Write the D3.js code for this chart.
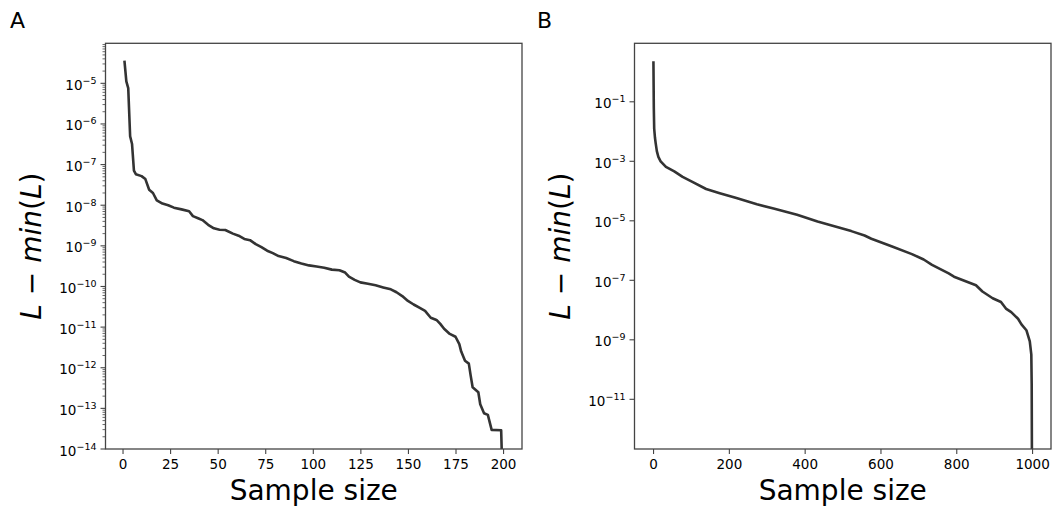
<!DOCTYPE html>
<html>
<head>
<meta charset="utf-8">
<script src="https://cdn.jsdelivr.net/npm/d3@7"></script>
<style>
	html, body { margin: 0; padding: 0; background: #fff; }
	svg { display: block; font-family: "DejaVu Sans", sans-serif; }
</style>
</head>
<body>
<div id="chart"></div>
<script>
'use strict';

// panel A : 200 samples
var sampleA = [1, 2, 3, 4, 5, 6, 7, 10, 12, 14, 16, 18, 21, 24, 27, 31, 35, 37, 40, 42,
	45, 48, 51, 54, 58, 61, 64, 67, 70, 73, 76, 79, 82, 86, 90, 94, 98, 102, 106, 110,
	114, 117, 119, 122, 125, 129, 133, 137, 141, 144, 147, 150, 153, 156, 159, 162, 165, 167, 169, 172,
	175, 177, 178, 180, 182, 183, 184, 187, 188, 190, 192, 194, 199, 200];
var lossA = [3.6e-5, 1.12e-5, 7.6e-6, 5.0e-7, 3.2e-7, 7.1e-8, 5.8e-8, 5.2e-8, 4.4e-8, 2.4e-8, 2.0e-8, 1.32e-8, 1.1e-8, 1.0e-8, 8.7e-9, 7.9e-9, 7.1e-9, 5.4e-9, 4.7e-9, 4.3e-9,
	3.3e-9, 2.7e-9, 2.5e-9, 2.45e-9, 2.0e-9, 1.78e-9, 1.48e-9, 1.38e-9, 1.1e-9, 9.3e-10, 7.6e-10, 6.6e-10, 5.6e-10, 5.0e-10, 4.2e-10, 3.7e-10, 3.3e-10, 3.1e-10, 2.9e-10, 2.6e-10,
	2.5e-10, 2.2e-10, 1.74e-10, 1.45e-10, 1.26e-10, 1.17e-10, 1.07e-10, 9.5e-11, 8.5e-11, 7.2e-11, 5.8e-11, 4.4e-11, 3.6e-11, 3.0e-11, 2.5e-11, 1.7e-11, 1.5e-11, 1.2e-11, 9.1e-12, 6.8e-12,
	5.8e-12, 3.8e-12, 2.5e-12, 1.48e-12, 1.26e-12, 6.3e-13, 3.3e-13, 2.5e-13, 1.26e-13, 7.6e-14, 6.9e-14, 2.95e-14, 2.9e-14, 0];

// panel B : 1000 samples
var sampleB = [1, 2, 3, 5, 7, 10, 14, 20, 34, 56, 78, 105, 140, 176, 220, 274, 318, 380, 434, 469,
	523, 558, 576, 629, 683, 714, 736, 780, 794, 852, 869, 896, 918, 931, 945, 963, 972, 985, 994, 998,
	999, 1000];
var lossB = [2.3, 6.3e-2, 1.26e-2, 6.3e-3, 4.0e-3, 2.2e-3, 1.4e-3, 1.0e-3, 6.5e-4, 4.6e-4, 3.0e-4, 2.0e-4, 1.17e-4, 8.5e-5, 5.8e-5, 3.6e-5, 2.6e-5, 1.6e-5, 9.5e-6, 7.1e-6,
	4.5e-6, 3.2e-6, 2.5e-6, 1.4e-6, 7.6e-7, 5.0e-7, 3.3e-7, 1.7e-7, 1.32e-7, 6.8e-8, 4.2e-8, 2.5e-8, 1.86e-8, 1.12e-8, 8.5e-9, 5.1e-9, 3.3e-9, 2.1e-9, 8.9e-10, 3.2e-10,
	3.2e-11, 0];

// tick labels
var xTicksA = [0, 25, 50, 75, 100, 125, 150, 175, 200];
var xTicksB = [0, 200, 400, 600, 800, 1000];
var yExpA = [-5, -6, -7, -8, -9, -10, -11, -12, -13, -14];
var yExpB = [-1, -3, -5, -7, -9, -11];

var W = 1056, H = 513;
var lineColor = '#333333', spineColor = '#444444';

var svg = d3.select('#chart').append('svg')
	.attr('width', W)
	.attr('height', H);

var panels = [
	{
		letter: 'A', letterX: 10,
		left: 105.5, right: 522, top: 43.3, bottom: 449,
		xDomain: [-8.95, 209.95], yDomain: [1e-14, Math.pow(10, -4.015)],
		xs: sampleA, ys: lossA, xTicks: xTicksA, yExp: yExpA, minor: true
	},
	{
		letter: 'B', letterX: 537,
		left: 634.5, right: 1051, top: 43.3, bottom: 449,
		xDomain: [-48.95, 1049.95], yDomain: [Math.pow(10, -12.67), Math.pow(10, 0.966)],
		xs: sampleB, ys: lossB, xTicks: xTicksB, yExp: yExpB, minor: false
	}
];

panels.forEach(function (p, i) {
	var x = d3.scaleLinear().domain(p.xDomain).range([p.left, p.right]),
		y = d3.scaleLog().domain(p.yDomain).range([p.bottom, p.top]),
		g = svg.append('g'),
		clipId = 'clip-' + i,
		pts;

	// panel letter
	svg.append('text')
		.attr('x', p.letterX)
		.attr('y', 28)
		.style('font-size', '22px')
		.text(p.letter);

	g.append('clipPath').attr('id', clipId)
		.append('rect')
		.attr('x', p.left).attr('y', p.top)
		.attr('width', p.right - p.left)
		.attr('height', p.bottom - p.top);

	// zero values are clipped far below the axis, as matplotlib does
	pts = p.xs.map(function (v, k) {
		return [v, p.ys[k] > 0 ? p.ys[k] : 1e-300];
	});

	g.append('path')
		.datum(pts)
		.attr('clip-path', 'url(#' + clipId + ')')
		.attr('fill', 'none')
		.attr('stroke', lineColor)
		.attr('stroke-width', 2.6)
		.attr('stroke-linejoin', 'round')
		.attr('d', d3.line()
			.x(function (d) { return x(d[0]); })
			.y(function (d) { return Math.min(y(d[1]), p.bottom + 50); }));

	// x axis
	var xAxis = g.append('g')
		.attr('transform', 'translate(0,' + p.bottom + ')')
		.call(d3.axisBottom(x).tickValues(p.xTicks).tickSize(5).tickPadding(5).tickFormat(d3.format('d')));
	xAxis.select('.domain').remove();
	xAxis.selectAll('line').attr('stroke', spineColor).attr('stroke-width', 1.1);
	xAxis.selectAll('text')
		.attr('fill', '#000')
		.style('font-size', '13.5px')
		.style('font-family', '"DejaVu Sans", sans-serif');

	// y axis, major ticks
	var yAxis = g.append('g')
		.attr('transform', 'translate(' + p.left + ',0)');
	var majors = p.yExp.map(function (e) { return Math.pow(10, e); });
	yAxis.selectAll('line.major')
		.data(majors)
		.enter().append('line')
		.attr('class', 'major')
		.attr('x1', -5).attr('x2', 0)
		.attr('y1', function (d) { return y(d); })
		.attr('y2', function (d) { return y(d); })
		.attr('stroke', spineColor).attr('stroke-width', 1.1);

	var lab = yAxis.selectAll('text.ylab')
		.data(p.yExp)
		.enter().append('text')
		.attr('class', 'ylab')
		.attr('x', -9)
		.attr('y', function (d) { return y(Math.pow(10, d)) + 6.5; })
		.attr('text-anchor', 'end')
		.style('font-size', '13.5px');
	lab.append('tspan').text('10');
	lab.append('tspan')
		.attr('dy', -6)
		.style('font-size', '9.5px')
		.text(function (d) { return '\u2212' + Math.abs(d); });

	// minor ticks at 2..9 x 10^k
	if (p.minor) {
		var minors = [];
		for (var e = -15; e <= -3; e++) {
			for (var m = 2; m <= 9; m++) {
				var v = m * Math.pow(10, e);
				if (v > p.yDomain[0] && v < p.yDomain[1]) minors.push(v);
			}
		}
		yAxis.selectAll('line.minor')
			.data(minors)
			.enter().append('line')
			.attr('class', 'minor')
			.attr('x1', -3).attr('x2', 0)
			.attr('y1', function (d) { return y(d); })
			.attr('y2', function (d) { return y(d); })
			.attr('stroke', spineColor).attr('stroke-width', 0.8);
	}

	// frame
	g.append('rect')
		.attr('x', p.left).attr('y', p.top)
		.attr('width', p.right - p.left)
		.attr('height', p.bottom - p.top)
		.attr('fill', 'none')
		.attr('stroke', spineColor)
		.attr('stroke-width', 1.3);

	// axis titles
	g.append('text')
		.attr('x', (p.left + p.right) / 2)
		.attr('y', 500)
		.attr('text-anchor', 'middle')
		.style('font-size', '28px')
		.text('Sample size');

	var yt = g.append('text')
		.attr('transform', 'translate(' + (p.left - 65) + ',' + ((p.top + p.bottom) / 2) + ') rotate(-90)')
		.attr('text-anchor', 'middle')
		.style('font-size', '28px');
	yt.append('tspan').style('font-style', 'italic').text('L');
	yt.append('tspan').text(' \u2212 ');
	yt.append('tspan').style('font-style', 'italic').text('min');
	yt.append('tspan').text('(');
	yt.append('tspan').style('font-style', 'italic').text('L');
	yt.append('tspan').text(')');
});
</script>
</body>
</html>
